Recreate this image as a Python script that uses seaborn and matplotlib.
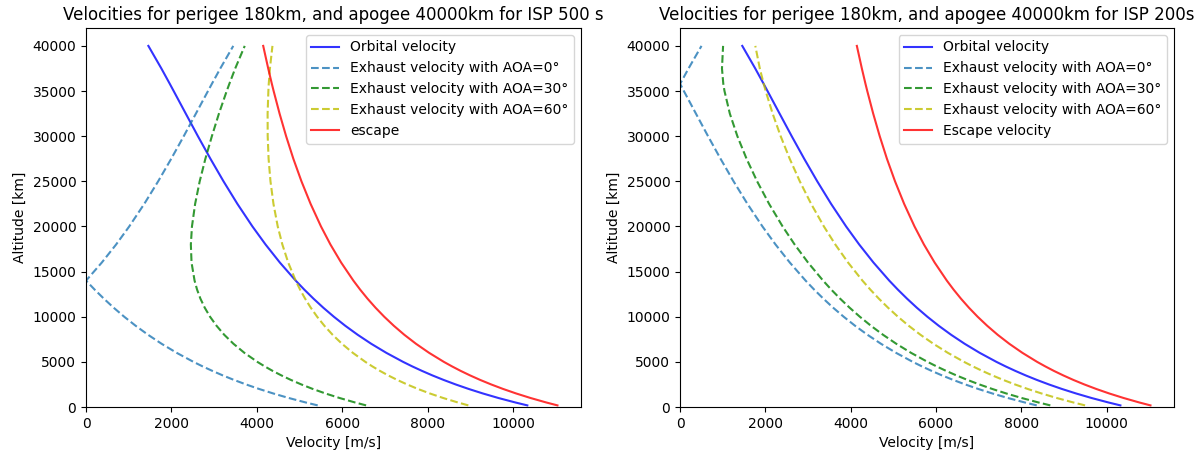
import matplotlib
matplotlib.use("Agg")
import matplotlib.pyplot as plt
import seaborn as sns
import pandas as pd

# Altitude samples [km]
altitude = [180, 500, 1000, 1500, 2000, 2500, 3000, 3500, 4000, 4500,
            5000, 6000, 7000, 8000, 9000, 10000, 11000, 12000, 13000, 14000,
            16000, 18000, 20000, 22500, 25000, 27500, 30000, 32500, 35000, 35800,
            37500, 40000]

# Orbital and escape velocity [m/s]
orbital = [10326, 10048, 9648, 9286, 8954, 8649, 8367, 8105, 7862, 7633,
           7419, 7027, 6675, 6357, 6066, 5799, 5552, 5323, 5108, 4906,
           4536, 4201, 3894, 3542, 3217, 2911, 2618, 2334, 2051, 1960,
           1763, 1459]
escape = [11031, 10771, 10400, 10064, 9759, 9480, 9223, 8987, 8767, 8564,
          8373, 8028, 7722, 7448, 7202, 6978, 6774, 6587, 6415, 6256,
          5970, 5719, 5498, 5255, 5041, 4851, 4682, 4529, 4390, 4348,
          4263, 4146]

# Exhaust velocity, ISP 500 s [m/s]
isp500_aoa0 = [5421, 5143, 4743, 4381, 4049, 3744, 3462, 3200, 2957, 2728,
               2514, 2122, 1770, 1452, 1161, 894, 647, 418, 203, 1,
               369, 704, 1011, 1363, 1688, 1994, 2287, 2571, 2854, 2945,
               3142, 3446]
isp500_aoa30 = [6554, 6297, 5932, 5603, 5306, 5038, 4794, 4572, 4367, 4181,
                4009, 3706, 3451, 3234, 3054, 2902, 2778, 2677, 2599, 2540,
                2469, 2453, 2479, 2553, 2660, 2793, 2945, 3110, 3292, 3354,
                3491, 3714]
isp500_aoa60 = [8946, 8703, 8356, 8046, 7766, 7513, 7282, 7071, 6878, 6700,
                6536, 6243, 5990, 5770, 5577, 5408, 5259, 5127, 5009, 4906,
                4731, 4594, 4486, 4386, 4316, 4272, 4251, 4249, 4267, 4276,
                4303, 4362]

# Exhaust velocity, ISP 200 s [m/s]
isp200_aoa0 = [8364, 8086, 7686, 7324, 6992, 6687, 6405, 6143, 5900, 5671,
               5457, 5065, 4713, 4395, 4104, 3837, 3590, 3361, 3146, 2944,
               2574, 2239, 1932, 1580, 1255, 949, 656, 372, 89, 2,
               199, 503]
isp200_aoa30 = [8683, 8406, 8010, 7650, 7321, 7019, 6740, 6481, 6240, 6015,
                5804, 5417, 5072, 4760, 4476, 4216, 3976, 3754, 3547, 3354,
                3001, 2687, 2405, 2088, 1807, 1559, 1344, 1167, 1042, 1014,
                983, 1009]
isp200_aoa60 = [9498, 9225, 8832, 8477, 8152, 7854, 7579, 7324, 7087, 6866,
                6659, 6280, 5942, 5638, 5362, 5109, 4877, 4662, 4463, 4277,
                3940, 3641, 3373, 3074, 2808, 2571, 2359, 2171, 2008, 1961,
                1870, 1765]

titles = ["Velocities for perigee 180km, and apogee 40000km for ISP 500 s",
          "Velocities for perigee 180km, and apogee 40000km for ISP 200s"]
escape_labels = ["escape", "Escape velocity"]
exhaust_sets = [(isp500_aoa0, isp500_aoa30, isp500_aoa60),
                (isp200_aoa0, isp200_aoa30, isp200_aoa60)]

fig = plt.figure(figsize=(12.03, 4.54), dpi=100)
axes = [fig.add_axes([0.0715, 0.1035, 0.4115, 0.835]),
        fig.add_axes([0.5653, 0.1035, 0.4106, 0.835])]

for ax, title, esc_label, (e0, e30, e60) in zip(axes, titles, escape_labels, exhaust_sets):
    series = [
        (orbital, "Orbital velocity", "b", "-"),
        (e0, "Exhaust velocity with AOA=0°", "tab:blue", "--"),
        (e30, "Exhaust velocity with AOA=30°", "g", "--"),
        (e60, "Exhaust velocity with AOA=60°", "y", "--"),
        (escape, esc_label, "r", "-"),
    ]
    for values, label, color, ls in series:
        df = pd.DataFrame({"velocity": values, "altitude": altitude})
        sns.lineplot(data=df, x="velocity", y="altitude", sort=False, estimator=None,
                     color=color, linestyle=ls, alpha=0.8, linewidth=1.5,
                     label=label, ax=ax)
    ax.set_xlim(0, 11583)
    ax.set_ylim(0, 41991)
    ax.set_title(title, fontsize=12)
    ax.set_xlabel("Velocity [m/s]")
    ax.set_ylabel("Altitude [km]")
    ax.legend(loc="upper right", fontsize=10)

fig.savefig("out.png", dpi=100)
